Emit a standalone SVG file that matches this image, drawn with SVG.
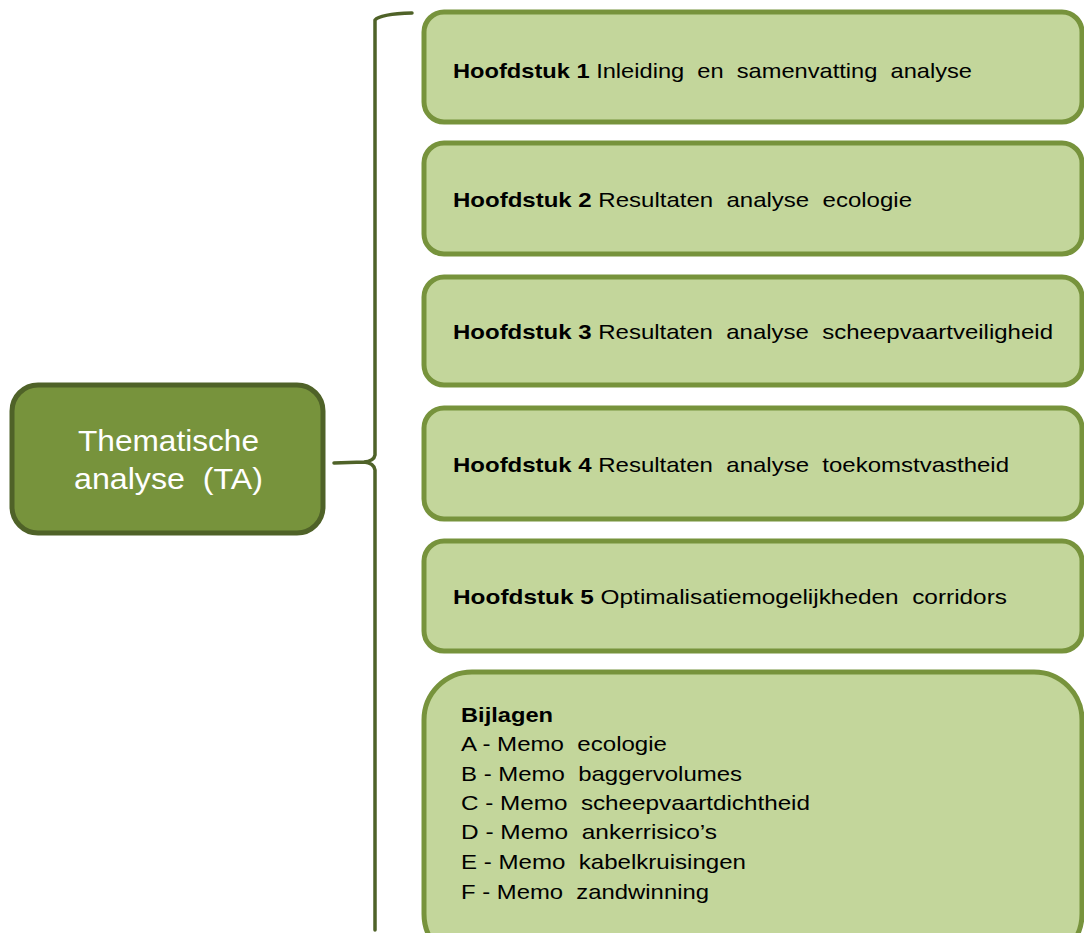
<svg xmlns="http://www.w3.org/2000/svg" width="1084" height="933" viewBox="0 0 1084 933">
<style>
.box{fill:#C3D69B;stroke:#77933C;stroke-width:5}
.main{fill:#77933C;stroke:#4F6228;stroke-width:5}
.brace{fill:none;stroke:#4F6228;stroke-width:3.5;stroke-linecap:round;stroke-linejoin:round}
.t{font-family:"Liberation Sans",Arial,sans-serif;font-size:21px;fill:#000;white-space:pre}
.l{font-size:21px}
.b{font-weight:bold}
.w{font-family:"Liberation Sans",Arial,sans-serif;font-size:30px;fill:#fff;white-space:pre}
</style>
<rect width="1084" height="933" fill="#fff"/>
<g id="connectors">
<path class="brace" d="M412,13 Q380,14 375,20 L375,455 Q374,461 364,462 L334,463 M364,462 Q374,463 375,470 L375,930"/>
</g>
<g id="ta">
<rect class="main" x="12" y="385" width="311" height="148" rx="26"/>
<text class="w" x="78" y="451" textLength="181" lengthAdjust="spacingAndGlyphs">Thematische</text>
<text class="w" x="74" y="489" textLength="189" lengthAdjust="spacingAndGlyphs">analyse  (TA)</text>
</g>
<g id="h1">
<rect class="box" x="424" y="12" width="658" height="110" rx="20"/>
<text class="t" x="453" y="78" textLength="519" lengthAdjust="spacingAndGlyphs" xml:space="preserve"><tspan class="b">Hoofdstuk 1</tspan> Inleiding  en  samenvatting  analyse</text>
</g>
<g id="h2">
<rect class="box" x="424" y="143" width="658" height="111" rx="20"/>
<text class="t" x="453" y="207" textLength="459" lengthAdjust="spacingAndGlyphs" xml:space="preserve"><tspan class="b">Hoofdstuk 2</tspan> Resultaten  analyse  ecologie</text>
</g>
<g id="h3">
<rect class="box" x="424" y="277" width="658" height="108" rx="20"/>
<text class="t" x="453" y="339" textLength="600" lengthAdjust="spacingAndGlyphs" xml:space="preserve"><tspan class="b">Hoofdstuk 3</tspan> Resultaten  analyse  scheepvaartveiligheid</text>
</g>
<g id="h4">
<rect class="box" x="424" y="408" width="658" height="111" rx="20"/>
<text class="t" x="453" y="472" textLength="556" lengthAdjust="spacingAndGlyphs" xml:space="preserve"><tspan class="b">Hoofdstuk 4</tspan> Resultaten  analyse  toekomstvastheid</text>
</g>
<g id="h5">
<rect class="box" x="424" y="541" width="658" height="110" rx="20"/>
<text class="t" x="453" y="604" textLength="554" lengthAdjust="spacingAndGlyphs" xml:space="preserve"><tspan class="b">Hoofdstuk 5</tspan> Optimalisatiemogelijkheden  corridors</text>
</g>
<g id="bijlagen">
<rect class="box" x="424" y="672" width="658" height="290" rx="48"/>
<text class="t l b" x="461" y="722" textLength="92" lengthAdjust="spacingAndGlyphs">Bijlagen</text>
<text class="t l" x="461" y="751" textLength="206" lengthAdjust="spacingAndGlyphs" xml:space="preserve">A - Memo  ecologie</text>
<text class="t l" x="461" y="781" textLength="281" lengthAdjust="spacingAndGlyphs" xml:space="preserve">B - Memo  baggervolumes</text>
<text class="t l" x="461" y="810" textLength="349" lengthAdjust="spacingAndGlyphs" xml:space="preserve">C - Memo  scheepvaartdichtheid</text>
<text class="t l" x="461" y="839" textLength="256" lengthAdjust="spacingAndGlyphs" xml:space="preserve">D - Memo  ankerrisico’s</text>
<text class="t l" x="461" y="869" textLength="285" lengthAdjust="spacingAndGlyphs" xml:space="preserve">E - Memo  kabelkruisingen</text>
<text class="t l" x="461" y="899" textLength="248" lengthAdjust="spacingAndGlyphs" xml:space="preserve">F - Memo  zandwinning</text>
</g>
</svg>
